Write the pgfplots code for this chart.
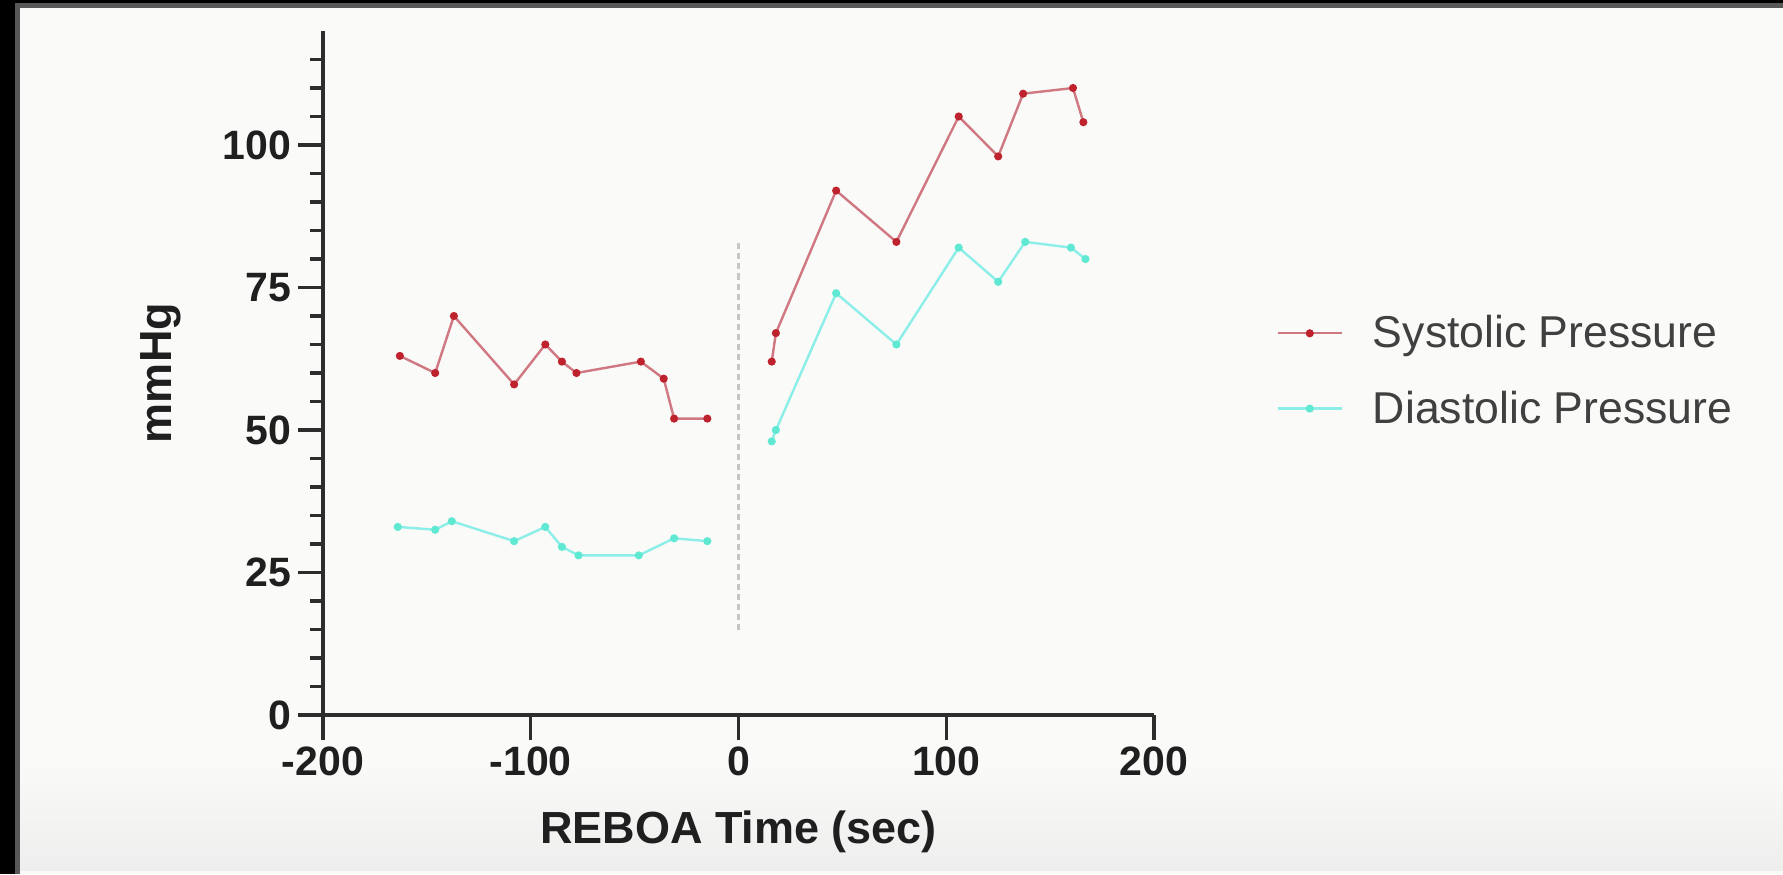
\documentclass[border=0pt]{standalone}
\usepackage{fontspec}
\setmainfont{Liberation Sans}
\usepackage{pgfplots}
\pgfplotsset{compat=1.18}
\definecolor{bgcol}{RGB}{250,250,248}
\definecolor{botcol}{RGB}{238,238,238}
\definecolor{framegray}{RGB}{88,88,88}
\definecolor{axcol}{RGB}{45,45,45}
\definecolor{sysline}{RGB}{208,120,130}
\definecolor{sysmark}{RGB}{190,35,45}
\definecolor{dialine}{RGB}{140,238,232}
\definecolor{diamark}{RGB}{95,232,210}
\begin{document}
\begin{tikzpicture}
\fill[bgcol] (0,0) rectangle (891.5pt,437pt);
\shade[top color=bgcol, bottom color=botcol] (0,2pt) rectangle (891.5pt,57pt);
\fill[black] (0,435.5pt) rectangle (891.5pt,437pt);
\fill[framegray] (0,433pt) rectangle (891.5pt,435.5pt);
\fill[black] (0,0) rectangle (7.5pt,437pt);
\fill[framegray] (7.5pt,0) rectangle (10pt,433pt);
\begin{axis}[
  at={(161.5pt,79.5pt)}, anchor=south west,
  scale only axis, width=415.5pt, height=342pt,
  xmin=-200, xmax=200, ymin=0, ymax=120,
  axis lines=left, axis line style={-, line width=1.6pt, color=axcol},
  xtick={-200,-100,0,100,200},
  xticklabels={-200,-100,0,100,200},
  ytick={0,25,50,75,100},
  yticklabels={0,25,50,75,100},
  minor ytick={5,10,15,20,30,35,40,45,55,60,65,70,80,85,90,95,105,110,115},
  minor xtick={},
  tick align=outside,
  major tick length=12.5pt, minor tick length=6.5pt,
  tick style={line width=1.6pt, color=axcol},
  ticklabel style={font=\fontsize{20.5pt}{24pt}\selectfont\bfseries, text=black!88},
  xlabel={REBOA Time (sec)}, ylabel={mmHg},
  label style={font=\fontsize{22.5pt}{26pt}\selectfont\bfseries, text=black!88},
  xlabel style={at={(axis description cs:0.5,-0.171)}, anchor=center},
  ylabel style={at={(axis description cs:-0.195,0.5)}, anchor=center},
  unbounded coords=jump,
  clip=false,
  legend style={at={(1.147,0.503)}, anchor=west, draw=none, fill=none,
    font=\fontsize{22.3pt}{26pt}\selectfont, text=black!75, row sep=16pt,
    inner sep=0pt, nodes={inner sep=2pt},
    /tikz/every odd column/.append style={column sep=13pt}},
  legend cell align=left,
  legend image code/.code={\draw[mark repeat=2,mark phase=2,#1] plot coordinates {(0pt,0pt) (16pt,0pt) (32pt,0pt)};},
]
\addplot[color=gray!45, line width=1.3pt, densely dashed, forget plot] coordinates {(0,15) (0,83)};
\addplot[color=sysline, line width=1.2pt, mark=*, mark size=1.4pt, mark options={fill=sysmark, draw=sysmark}] coordinates {
(-163,63) (-146,60) (-137,70) (-108,58) (-93,65) (-85,62) (-78,60) (-47,62) (-36,59) (-31,52) (-15,52)
(0,nan)
(16,62) (18,67) (47,92) (76,83) (106,105) (125,98) (137,109) (161,110) (166,104)};
\addlegendentry{Systolic Pressure}
\addplot[color=dialine, line width=1.2pt, mark=*, mark size=1.4pt, mark options={fill=diamark, draw=diamark}] coordinates {
(-164,33) (-146,32.5) (-138,34) (-108,30.5) (-93,33) (-85,29.5) (-77,28) (-48,28) (-31,31) (-15,30.5)
(0,nan)
(16,48) (18,50) (47,74) (76,65) (106,82) (125,76) (138,83) (160,82) (167,80)};
\addlegendentry{Diastolic Pressure}
\end{axis}
\pgfresetboundingbox
\path (0,0) rectangle (891.5pt,437pt);
\end{tikzpicture}
\end{document}
